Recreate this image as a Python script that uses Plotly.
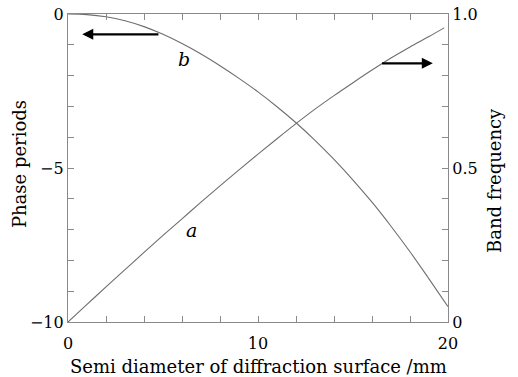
import plotly.graph_objects as go

# Curve b: phase periods (left axis)
x_b = list(range(0, 21))
phase_b = [0, -0.02, -0.09, -0.22, -0.41, -0.66, -0.96, -1.30, -1.68, -2.09, -2.53,
           -3.01, -3.53, -4.10, -4.72, -5.39, -6.11, -6.89, -7.72, -8.60, -9.50]

# Curve a: band frequency (right axis)
x_a = [0, 1, 2, 3, 4, 5, 6, 7, 8, 9, 10, 11, 12, 13, 14, 15, 16, 17, 18, 19, 19.8]
freq_a = [0, 0.057, 0.114, 0.170, 0.226, 0.281, 0.335, 0.389, 0.442, 0.494, 0.545,
          0.595, 0.644, 0.691, 0.735, 0.777, 0.818, 0.857, 0.893, 0.927, 0.955]

x_ticks = [0, 10, 20]
left_ticks = [0, -5, -10]
left_ticktext = ["0", "\u22125", "\u221210"]
right_ticks = [0, 0.5, 1.0]
right_ticktext = ["0", "0.5", "1.0"]

x_title = "Semi diameter of diffraction surface /mm"
left_title = "Phase periods"
right_title = "Band frequency"

FONT = "DejaVu Serif"
AX = "#8a8a8a"
LINE = "#6e6e6e"
TICKFONT = dict(size=16, family=FONT, color="black")

fig = go.Figure()
fig.add_trace(go.Scatter(x=x_b, y=phase_b, mode="lines", line=dict(color=LINE, width=1.1),
                         yaxis="y", showlegend=False, line_shape="spline"))
fig.add_trace(go.Scatter(x=x_a, y=freq_a, mode="lines", line=dict(color=LINE, width=1.1),
                         yaxis="y2", showlegend=False, line_shape="spline"))

fig.update_layout(
    width=518, height=377,
    margin=dict(l=68, r=70, t=14, b=55, autoexpand=False),
    paper_bgcolor="white", plot_bgcolor="white",
    font=dict(family=FONT, size=16, color="black"),
    xaxis=dict(range=[0, 20], tickvals=x_ticks, ticks="inside", ticklen=6, tickcolor=AX,
               showline=True, linecolor=AX, linewidth=1.2, mirror="ticks",
               showgrid=False, zeroline=False, automargin=False,
               ticklabeloverflow="allow", ticklabelstandoff=7,
               minor=dict(dtick=2, ticks="inside", ticklen=6, tickcolor=AX),
               tickfont=TICKFONT),
    yaxis=dict(range=[-10, 0], tickvals=left_ticks, ticktext=left_ticktext,
               ticks="inside", ticklen=6, tickcolor=AX,
               showline=True, linecolor=AX, linewidth=1.2,
               showgrid=False, zeroline=False, automargin=False,
               ticklabeloverflow="allow",
               minor=dict(dtick=1, ticks="inside", ticklen=6, tickcolor=AX),
               tickfont=TICKFONT),
    yaxis2=dict(range=[0, 1], tickvals=right_ticks, ticktext=right_ticktext,
                overlaying="y", side="right",
                ticks="inside", ticklen=6, tickcolor=AX,
                showline=True, linecolor=AX, linewidth=1.2,
                showgrid=False, zeroline=False, automargin=False,
                ticklabeloverflow="allow",
                minor=dict(dtick=0.1, ticks="inside", ticklen=6, tickcolor=AX),
                tickfont=TICKFONT),
)

# axis titles as positioned annotations
fig.add_annotation(x=0.5, y=-0.143, xref="paper", yref="paper", text=x_title,
                   showarrow=False, xanchor="center", yanchor="middle",
                   font=dict(size=18, family=FONT))
fig.add_annotation(x=-0.126, y=0.513, xref="paper", yref="paper", text=left_title,
                   showarrow=False, textangle=-90, xanchor="center", yanchor="middle",
                   font=dict(size=18, family=FONT))
fig.add_annotation(x=1.124, y=0.458, xref="paper", yref="paper", text=right_title,
                   showarrow=False, textangle=-90, xanchor="center", yanchor="middle",
                   font=dict(size=18, family=FONT))

# arrows
fig.add_annotation(x=0.75, y=-0.66, ax=4.84, ay=-0.66, xref="x", yref="y",
                   axref="x", ayref="y", text="", showarrow=True,
                   arrowhead=2, arrowsize=1, arrowwidth=2.2, arrowcolor="black")
fig.add_annotation(x=19.2, y=0.84, ax=16.45, ay=0.84, xref="x", yref="y2",
                   axref="x", ayref="y2", text="", showarrow=True,
                   arrowhead=2, arrowsize=1, arrowwidth=2.2, arrowcolor="black")
# curve labels
fig.add_annotation(x=6.1, y=-1.45, xref="x", yref="y", text="<i>b</i>",
                   showarrow=False, font=dict(size=19, family=FONT))
fig.add_annotation(x=6.5, y=0.30, xref="x", yref="y2", text="<i>a</i>",
                   showarrow=False, font=dict(size=19, family=FONT))

fig.write_html("out.html", config={"displayModeBar": False},
               post_script="document.body.style.margin='0';")
